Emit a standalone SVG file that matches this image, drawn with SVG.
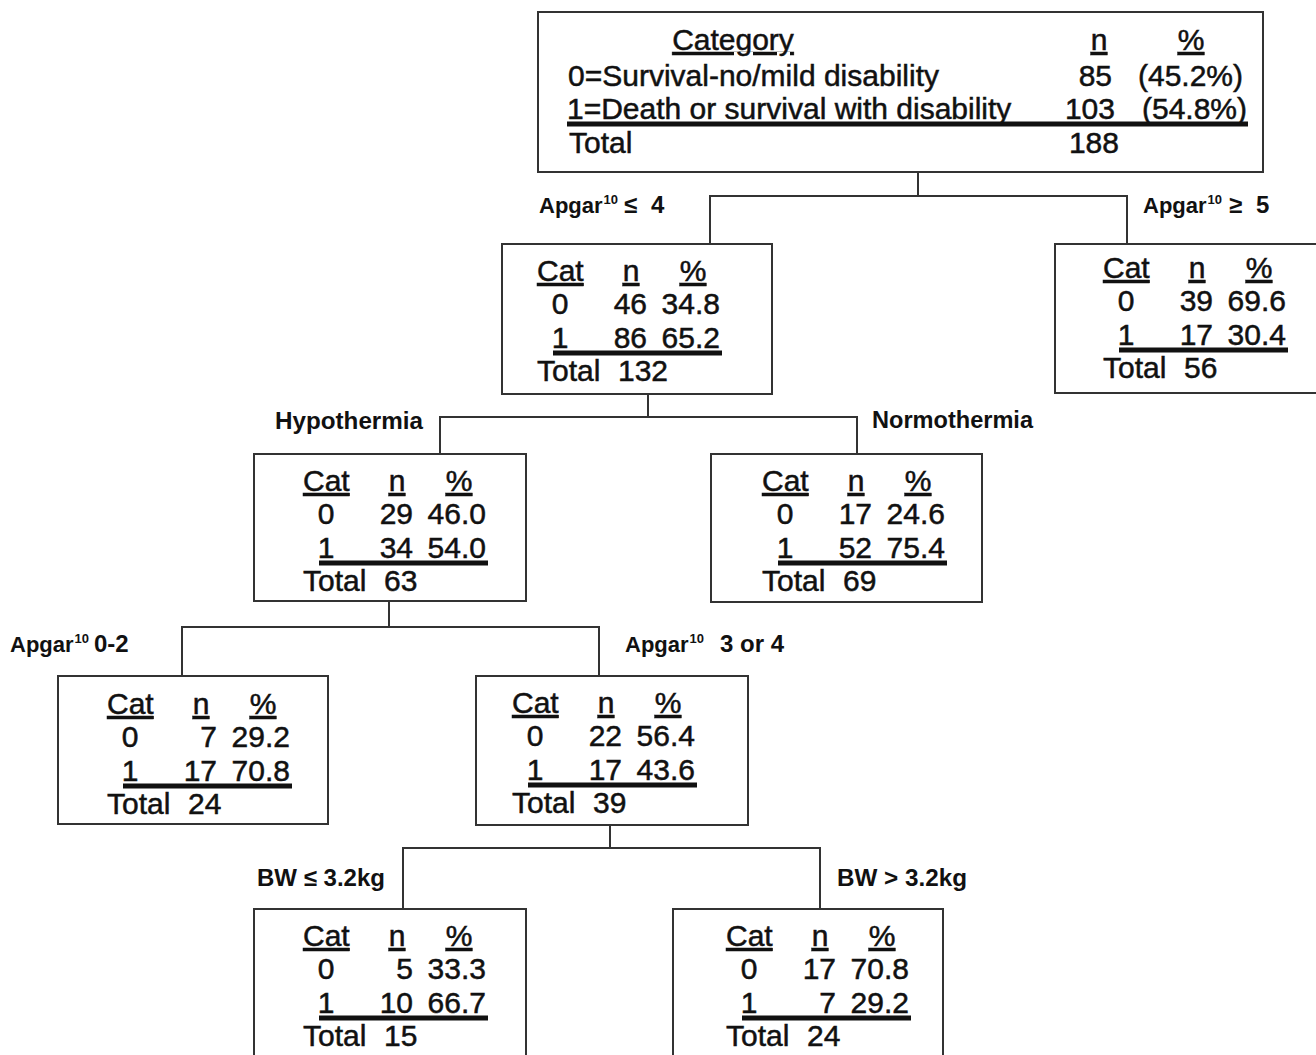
<svg xmlns="http://www.w3.org/2000/svg" width="1316" height="1055" viewBox="0 0 1316 1055">
<style>
.box{fill:#fff;stroke:#333;stroke-width:2}
.t{font-family:"Liberation Sans",Arial,sans-serif;font-size:30px;fill:#111;stroke:#111;stroke-width:0.5}
.u{text-decoration:underline}
.m{text-anchor:middle}
.e{text-anchor:end}
.bar{stroke:#111;stroke-width:5}
.lbl{font-family:"Liberation Sans",Arial,sans-serif;font-size:24px;font-weight:bold;fill:#111}
.ap{font-size:22px}
.big{font-size:24px}
.sup{font-size:13px}
.conn{fill:none;stroke:#333;stroke-width:2}
</style>
<rect width="1316" height="1055" fill="#fff"/>
<g id="connectors">
<path class="conn" d="M918,172V196M710,244V196H1127V244"/>
<path class="conn" d="M648,394V417M440,454V417H857V454"/>
<path class="conn" d="M389,601V627M182,676V627H599V676"/>
<path class="conn" d="M610,825V848M403,909V848H820V909"/>
</g>
<g id="root">
<rect class="box" x="538" y="12" width="725" height="160"/>
<text class="t m u" x="733" y="50">Category</text>
<text class="t m u" x="1099" y="50">n</text>
<text class="t m u" x="1191" y="50">%</text>
<text class="t" x="568" y="86">0=Survival-no/mild disability</text>
<text class="t e" x="1112" y="86">85</text>
<text class="t e" x="1243" y="86">(45.2%)</text>
<text class="t" x="567" y="119">1=Death or survival with disability</text>
<text class="t e" x="1115" y="119">103</text>
<text class="t e" x="1247" y="119">(54.8%)</text>
<line class="bar" x1="567" y1="124" x2="1248" y2="124"/>
<text class="t" x="569" y="153">Total</text>
<text class="t e" x="1119" y="153">188</text>
</g>
<g id="labels">
<text class="lbl ap" x="539" y="213">Apgar<tspan class="sup" dx="1" dy="-9">10</tspan><tspan class="big" x="624" dy="9">≤</tspan><tspan class="big" x="651">4</tspan></text>
<text class="lbl ap" x="1143" y="213">Apgar<tspan class="sup" dx="1" dy="-9">10</tspan><tspan class="big" x="1229" dy="9">≥</tspan><tspan class="big" x="1256">5</tspan></text>
<text class="lbl" x="275" y="429" textLength="148" lengthAdjust="spacingAndGlyphs">Hypothermia</text>
<text class="lbl" x="872" y="428" textLength="161" lengthAdjust="spacingAndGlyphs">Normothermia</text>
<text class="lbl ap" x="10" y="652">Apgar<tspan class="sup" dx="1" dy="-9">10</tspan><tspan class="big" x="94" dy="9">0-2</tspan></text>
<text class="lbl ap" x="625" y="652">Apgar<tspan class="sup" dx="1" dy="-9">10</tspan><tspan class="big" x="720" dy="9">3 or 4</tspan></text>
<text class="lbl" x="257" y="886" textLength="128" lengthAdjust="spacingAndGlyphs">BW ≤ 3.2kg</text>
<text class="lbl" x="837" y="886" textLength="130" lengthAdjust="spacingAndGlyphs">BW &gt; 3.2kg</text>
</g>
<g id="node-apgar-le4">
<rect class="box" x="502" y="244" width="270" height="150"/>
<g transform="translate(537,244)">
<text class="t u" x="0" y="37">Cat</text><text class="t m u" x="94" y="37">n</text><text class="t m u" x="156" y="37">%</text>
<text class="t m" x="23" y="70">0</text><text class="t e" x="110" y="70">46</text><text class="t e" x="183" y="70">34.8</text>
<text class="t m" x="23" y="104">1</text><text class="t e" x="110" y="104">86</text><text class="t e" x="183" y="104">65.2</text>
<line class="bar" x1="16" y1="109" x2="185" y2="109"/>
<text class="t" x="0" y="137">Total</text><text class="t" x="81" y="137">132</text>
</g>
</g>
<g id="node-apgar-ge5">
<rect class="box" x="1055" y="244" width="280" height="149"/>
<g transform="translate(1103,241)">
<text class="t u" x="0" y="37">Cat</text><text class="t m u" x="94" y="37">n</text><text class="t m u" x="156" y="37">%</text>
<text class="t m" x="23" y="70">0</text><text class="t e" x="110" y="70">39</text><text class="t e" x="183" y="70">69.6</text>
<text class="t m" x="23" y="104">1</text><text class="t e" x="110" y="104">17</text><text class="t e" x="183" y="104">30.4</text>
<line class="bar" x1="16" y1="109" x2="185" y2="109"/>
<text class="t" x="0" y="137">Total</text><text class="t" x="81" y="137">56</text>
</g>
</g>
<g id="node-hypothermia">
<rect class="box" x="254" y="454" width="272" height="147"/>
<g transform="translate(303,454)">
<text class="t u" x="0" y="37">Cat</text><text class="t m u" x="94" y="37">n</text><text class="t m u" x="156" y="37">%</text>
<text class="t m" x="23" y="70">0</text><text class="t e" x="110" y="70">29</text><text class="t e" x="183" y="70">46.0</text>
<text class="t m" x="23" y="104">1</text><text class="t e" x="110" y="104">34</text><text class="t e" x="183" y="104">54.0</text>
<line class="bar" x1="16" y1="109" x2="185" y2="109"/>
<text class="t" x="0" y="137">Total</text><text class="t" x="81" y="137">63</text>
</g>
</g>
<g id="node-normothermia">
<rect class="box" x="711" y="454" width="271" height="148"/>
<g transform="translate(762,454)">
<text class="t u" x="0" y="37">Cat</text><text class="t m u" x="94" y="37">n</text><text class="t m u" x="156" y="37">%</text>
<text class="t m" x="23" y="70">0</text><text class="t e" x="110" y="70">17</text><text class="t e" x="183" y="70">24.6</text>
<text class="t m" x="23" y="104">1</text><text class="t e" x="110" y="104">52</text><text class="t e" x="183" y="104">75.4</text>
<line class="bar" x1="16" y1="109" x2="185" y2="109"/>
<text class="t" x="0" y="137">Total</text><text class="t" x="81" y="137">69</text>
</g>
</g>
<g id="node-apgar-0-2">
<rect class="box" x="58" y="676" width="270" height="148"/>
<g transform="translate(107,677)">
<text class="t u" x="0" y="37">Cat</text><text class="t m u" x="94" y="37">n</text><text class="t m u" x="156" y="37">%</text>
<text class="t m" x="23" y="70">0</text><text class="t e" x="110" y="70">7</text><text class="t e" x="183" y="70">29.2</text>
<text class="t m" x="23" y="104">1</text><text class="t e" x="110" y="104">17</text><text class="t e" x="183" y="104">70.8</text>
<line class="bar" x1="16" y1="109" x2="185" y2="109"/>
<text class="t" x="0" y="137">Total</text><text class="t" x="81" y="137">24</text>
</g>
</g>
<g id="node-apgar-3-4">
<rect class="box" x="476" y="676" width="272" height="149"/>
<g transform="translate(512,676)">
<text class="t u" x="0" y="37">Cat</text><text class="t m u" x="94" y="37">n</text><text class="t m u" x="156" y="37">%</text>
<text class="t m" x="23" y="70">0</text><text class="t e" x="110" y="70">22</text><text class="t e" x="183" y="70">56.4</text>
<text class="t m" x="23" y="104">1</text><text class="t e" x="110" y="104">17</text><text class="t e" x="183" y="104">43.6</text>
<line class="bar" x1="16" y1="109" x2="185" y2="109"/>
<text class="t" x="0" y="137">Total</text><text class="t" x="81" y="137">39</text>
</g>
</g>
<g id="node-bw-le">
<rect class="box" x="254" y="909" width="272" height="170"/>
<g transform="translate(303,909)">
<text class="t u" x="0" y="37">Cat</text><text class="t m u" x="94" y="37">n</text><text class="t m u" x="156" y="37">%</text>
<text class="t m" x="23" y="70">0</text><text class="t e" x="110" y="70">5</text><text class="t e" x="183" y="70">33.3</text>
<text class="t m" x="23" y="104">1</text><text class="t e" x="110" y="104">10</text><text class="t e" x="183" y="104">66.7</text>
<line class="bar" x1="16" y1="109" x2="185" y2="109"/>
<text class="t" x="0" y="137">Total</text><text class="t" x="81" y="137">15</text>
</g>
</g>
<g id="node-bw-gt">
<rect class="box" x="673" y="909" width="270" height="170"/>
<g transform="translate(726,909)">
<text class="t u" x="0" y="37">Cat</text><text class="t m u" x="94" y="37">n</text><text class="t m u" x="156" y="37">%</text>
<text class="t m" x="23" y="70">0</text><text class="t e" x="110" y="70">17</text><text class="t e" x="183" y="70">70.8</text>
<text class="t m" x="23" y="104">1</text><text class="t e" x="110" y="104">7</text><text class="t e" x="183" y="104">29.2</text>
<line class="bar" x1="16" y1="109" x2="185" y2="109"/>
<text class="t" x="0" y="137">Total</text><text class="t" x="81" y="137">24</text>
</g>
</g>
</svg>
